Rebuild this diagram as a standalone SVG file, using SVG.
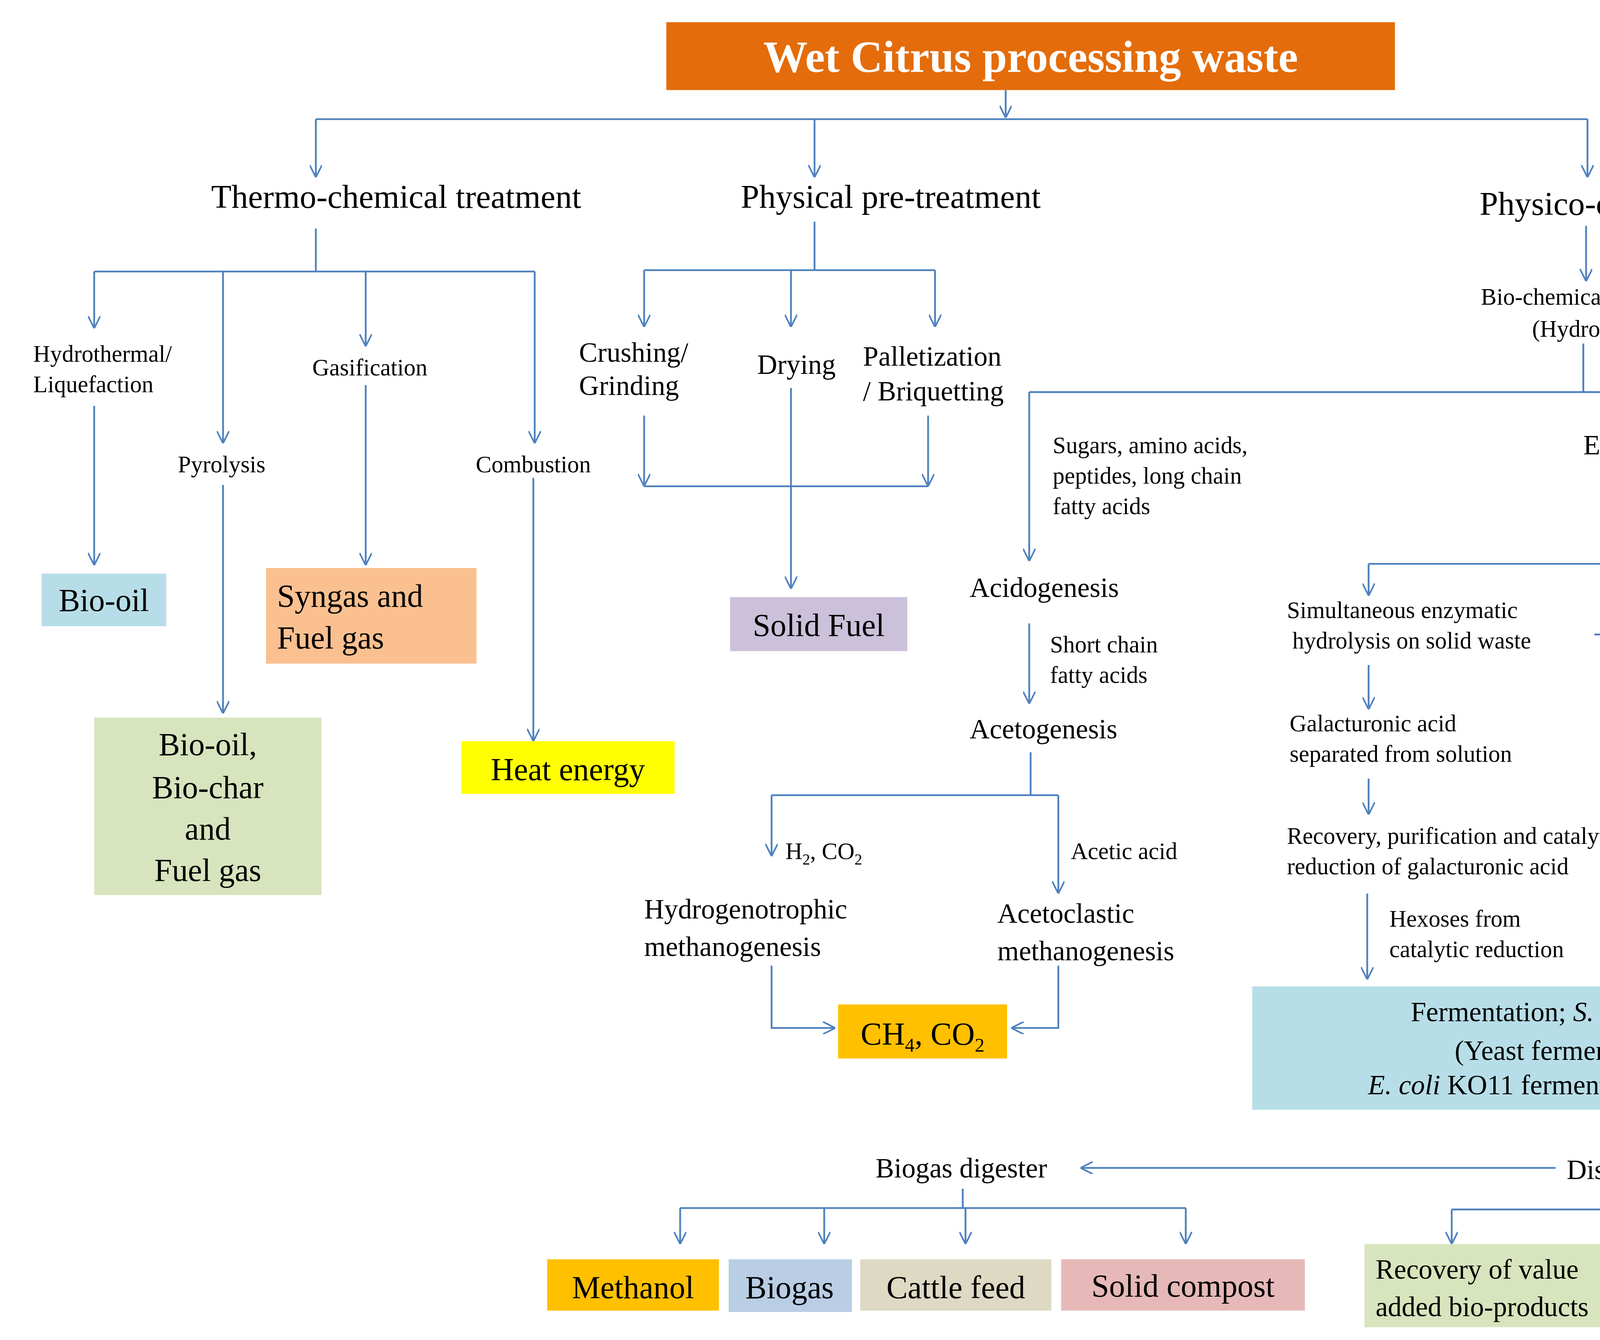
<svg xmlns="http://www.w3.org/2000/svg" width="5532" height="3430" viewBox="0 0 5532 3430">
<defs>
<style>
text{font-family:"Liberation Serif","DejaVu Serif",serif;fill:#000}
.s{font-size:17px}.m{font-size:20px}.l{font-size:23px}.xl{font-size:24px}
.c{text-anchor:middle}
.ln{fill:none;stroke:#4F81BD;stroke-width:1.3}
.a{marker-end:url(#ar)}
</style>
<marker id="ar" viewBox="0 0 10 10" refX="10" refY="5" markerWidth="9" markerHeight="9" markerUnits="userSpaceOnUse" orient="auto">
<path d="M0,0 L10,5 L0,10" fill="none" stroke="#4F81BD" stroke-width="1.3"/>
</marker>
</defs>
<rect width="5532" height="3430" fill="#fff"/>
<g transform="scale(3.5462)">
<g id="connectors">
<path class="ln a" d="M726,65 V85"/>
<path class="ln" d="M228,86 H1146"/>
<path class="ln a" d="M228,86 V128"/><path class="ln a" d="M588,86 V128"/><path class="ln a" d="M1146,86 V128"/>
<path class="ln" d="M228,165 V196 M68,196 H386"/>
<path class="ln a" d="M68,196 V237"/><path class="ln a" d="M161,196 V320"/><path class="ln a" d="M264,196 V250"/><path class="ln a" d="M386,196 V320"/>
<path class="ln a" d="M68,293 V408"/><path class="ln a" d="M264,278 V408"/><path class="ln a" d="M161,350 V515"/><path class="ln a" d="M385,345 V535"/>
<path class="ln" d="M588,160 V195 M465,195 H675"/>
<path class="ln a" d="M465,195 V236"/><path class="ln a" d="M571,195 V236"/><path class="ln a" d="M675,195 V236"/>
<path class="ln a" d="M465,300 V351"/><path class="ln a" d="M670,300 V351"/><path class="ln" d="M465,351 H670"/>
<path class="ln a" d="M571,280 V425"/>
<path class="ln a" d="M1145,163 V203"/>
<path class="ln" d="M1143,248 V283 M743,283 H1199"/>
<path class="ln a" d="M1199,283 V303"/><path class="ln a" d="M743,283 V405"/>
<path class="ln a" d="M1199,338 V405"/>
<path class="ln" d="M988,407 H1435"/>
<path class="ln a" d="M988,407 V430"/><path class="ln a" d="M1435,407 V433"/>
<path class="ln a" d="M743,450 V508"/>
<path class="ln" d="M744,543 V574 M557,574 H764"/>
<path class="ln a" d="M557,574 V618"/><path class="ln a" d="M764,574 V645"/>
<path class="ln a" d="M557,697 V742 H603"/><path class="ln a" d="M764,697 V742 H730"/>
<path class="ln a" d="M1151,458 H1385"/>
<path class="ln a" d="M988,480 V512"/><path class="ln a" d="M988,562 V588"/><path class="ln a" d="M987,645 V707"/>
<path class="ln" d="M1442,520 V544 M1353,544 H1511"/>
<path class="ln a" d="M1353,544 V606"/><path class="ln a" d="M1511,544 V808"/>
<path class="ln a" d="M1356,672 V709"/>
<path class="ln a" d="M1178,805 V833"/>
<path class="ln a" d="M1123,843 H780"/>
<path class="ln" d="M695,858 V872 M491,872 H856"/>
<path class="ln a" d="M491,872 V898"/><path class="ln a" d="M595,872 V898"/><path class="ln a" d="M697,872 V898"/><path class="ln a" d="M856,872 V898"/>
<path class="ln" d="M1176,858 V873 M1048,873 H1276"/>
<path class="ln a" d="M1048,873 V898"/><path class="ln a" d="M1276,873 V902"/>
</g>
<g id="title"><rect x="481" y="16" width="526" height="49" fill="#E46C0A"/><text x="744" y="52" class="c" style="font-size:32px;font-weight:bold;fill:#fff">Wet Citrus processing waste</text></g>
<g id="thermo"><text x="286" y="150" class="xl c">Thermo-chemical  treatment</text></g>
<g id="physical"><text x="643" y="150" class="xl c">Physical  pre-treatment</text></g>
<g id="steam"><text x="1166" y="113" class="s">H<tspan font-size="11" dy="4">2</tspan><tspan dy="-4">O, H</tspan><tspan font-size="11" dy="4">2</tspan><tspan dy="-4">SO</tspan><tspan font-size="11" dy="4">4</tspan><tspan dy="-4">, High pressure steam</tspan></text></g>
<g id="physico"><text x="1221" y="155" class="xl c">Physico-chemical  pre-treatment</text></g>
<g id="hydrothermal"><text x="24" y="261" class="s">Hydrothermal/</text><text x="24" y="283" class="s">Liquefaction</text></g>
<g id="gasification"><text x="267" y="271" class="s c">Gasification</text></g>
<g id="pyrolysis"><text x="160" y="341" class="s c">Pyrolysis</text></g>
<g id="combustion"><text x="385" y="341" class="s c">Combustion</text></g>
<g id="biooil"><rect x="30" y="414" width="90" height="38" fill="#B7DEE8"/><text x="75" y="441" class="l c">Bio-oil</text></g>
<g id="syngas"><rect x="192" y="410" width="152" height="69" fill="#FAC090"/><text x="200" y="438" class="l">Syngas and</text><text x="200" y="468" class="l">Fuel gas</text></g>
<g id="biochar"><rect x="68" y="518" width="164" height="128" fill="#D7E4BD"/><text x="150" y="545" class="l c">Bio-oil,</text><text x="150" y="576" class="l c">Bio-char</text><text x="150" y="606" class="l c">and</text><text x="150" y="636" class="l c">Fuel gas</text></g>
<g id="heat"><rect x="333" y="535" width="154" height="38" fill="#FFFF00"/><text x="410" y="563" class="l c">Heat energy</text></g>
<g id="crushing"><text x="418" y="261" class="m">Crushing/</text><text x="418" y="285" class="m">Grinding</text></g>
<g id="drying"><text x="575" y="270" class="m c">Drying</text></g>
<g id="palletization"><text x="623" y="264" class="m">Palletization</text><text x="623" y="289" class="m">/ Briquetting</text></g>
<g id="solidfuel"><rect x="527" y="431" width="128" height="39" fill="#CCC1DA"/><text x="591" y="459" class="l c">Solid Fuel</text></g>
<g id="biochemical"><text x="1149" y="220" class="s c">Bio-chemical treatment</text><text x="1149" y="243" class="s c">(Hydrolysis)</text></g>
<g id="sugars"><text x="760" y="327" class="s">Sugars, amino acids,</text><text x="760" y="349" class="s">peptides, long chain</text><text x="760" y="371" class="s">fatty acids</text></g>
<g id="expansion"><text x="1143" y="328" class="m">Expansion tank</text></g>
<g id="separation"><text x="1322" y="360" class="s c">Separation of soluble sugars</text><text x="1322" y="382" class="s c">and insoluble solids</text></g>
<g id="acidogenesis"><text x="700" y="431" class="m">Acidogenesis</text></g>
<g id="shortchain"><text x="758" y="471" class="s">Short chain</text><text x="758" y="493" class="s">fatty acids</text></g>
<g id="acetogenesis"><text x="700" y="533" class="m">Acetogenesis</text></g>
<g id="h2co2"><text x="567" y="620" class="s">H<tspan font-size="11" dy="4">2</tspan><tspan dy="-4">, CO</tspan><tspan font-size="11" dy="4">2</tspan></text></g>
<g id="acetic"><text x="773" y="620" class="s">Acetic acid</text></g>
<g id="hydrogenotrophic"><text x="465" y="663" class="m">Hydrogenotrophic</text><text x="465" y="690" class="m">methanogenesis</text></g>
<g id="acetoclastic"><text x="720" y="666" class="m">Acetoclastic</text><text x="720" y="693" class="m">methanogenesis</text></g>
<g id="ch4"><rect x="605" y="725" width="122" height="39" fill="#FFC000"/><text x="666" y="754" class="l c">CH<tspan font-size="14" dy="5">4</tspan><tspan dy="-5">, CO</tspan><tspan font-size="14" dy="5">2</tspan></text></g>
<g id="simultaneous"><text x="929" y="446" class="s">Simultaneous enzymatic</text><text x="933" y="468" class="s">hydrolysis on solid waste</text></g>
<g id="mono"><text x="1247" y="441" class="s c">Monosaccharides</text></g>
<g id="evaporation"><text x="1456" y="442" class="s c">Evaporation of</text><text x="1456" y="464" class="s c">soluble sugars</text><text x="1456" y="486" class="s c">(fructose,</text><text x="1456" y="508" class="s c">glucose, sucrose)</text></g>
<g id="galacturonic"><text x="931" y="528" class="s">Galacturonic acid</text><text x="931" y="550" class="s">separated from solution</text></g>
<g id="recoverypur"><text x="929" y="609" class="s">Recovery, purification and catalytic</text><text x="929" y="631" class="s">reduction of galacturonic acid</text></g>
<g id="hexoses"><text x="1003" y="669" class="s">Hexoses from</text><text x="1003" y="691" class="s">catalytic reduction</text></g>
<g id="fermentable"><text x="1299" y="621" class="s">Fermentable sugar</text><text x="1299" y="643" class="s">solution at optimal</text><text x="1299" y="665" class="s">concentration</text></g>
<g id="fermentation"><rect x="904" y="712" width="514" height="89" fill="#B7DEE8"/>
<text x="1161" y="737" class="m c">Fermentation; <tspan font-style="italic">S. cerevisiae</tspan>, <tspan font-style="italic">E. coli</tspan>:</text>
<text x="1161" y="765" class="m c">(Yeast ferments 6-C sugars;</text>
<text x="1161" y="790" class="m c"><tspan font-style="italic">E. coli</tspan> KO11 ferments 5-C and 6-C sugars)</text></g>
<g id="molasses"><rect x="1432" y="808" width="119" height="39" fill="#E6B9B8"/><text x="1491" y="836" class="l c">Molasses</text></g>
<g id="distillation"><text x="1131" y="851" class="m">Distillation</text></g>
<g id="biogasdigester"><text x="694" y="850" class="m c">Biogas digester</text></g>
<g id="methanol"><rect x="395" y="909" width="124" height="37" fill="#FFC000"/><text x="457" y="937" class="l c">Methanol</text></g>
<g id="biogas"><rect x="526" y="909" width="89" height="38" fill="#B9CDE5"/><text x="570" y="937" class="l c">Biogas</text></g>
<g id="cattle"><rect x="621" y="909" width="138" height="37" fill="#DDD9C3"/><text x="690" y="937" class="l c">Cattle feed</text></g>
<g id="compost"><rect x="766" y="909" width="176" height="37" fill="#E6B9B8"/><text x="854" y="936" class="l c">Solid compost</text></g>
<g id="recovery"><rect x="985" y="898" width="213" height="60" fill="#D7E4BD"/><text x="993" y="923" class="m">Recovery of value</text><text x="993" y="950" class="m">added bio-products</text></g>
<g id="bioethanol"><rect x="1222" y="907" width="132" height="35" fill="#B7DEE8"/><text x="1288" y="932" class="m c">Bio-ethanol</text></g>
</g>
</svg>
